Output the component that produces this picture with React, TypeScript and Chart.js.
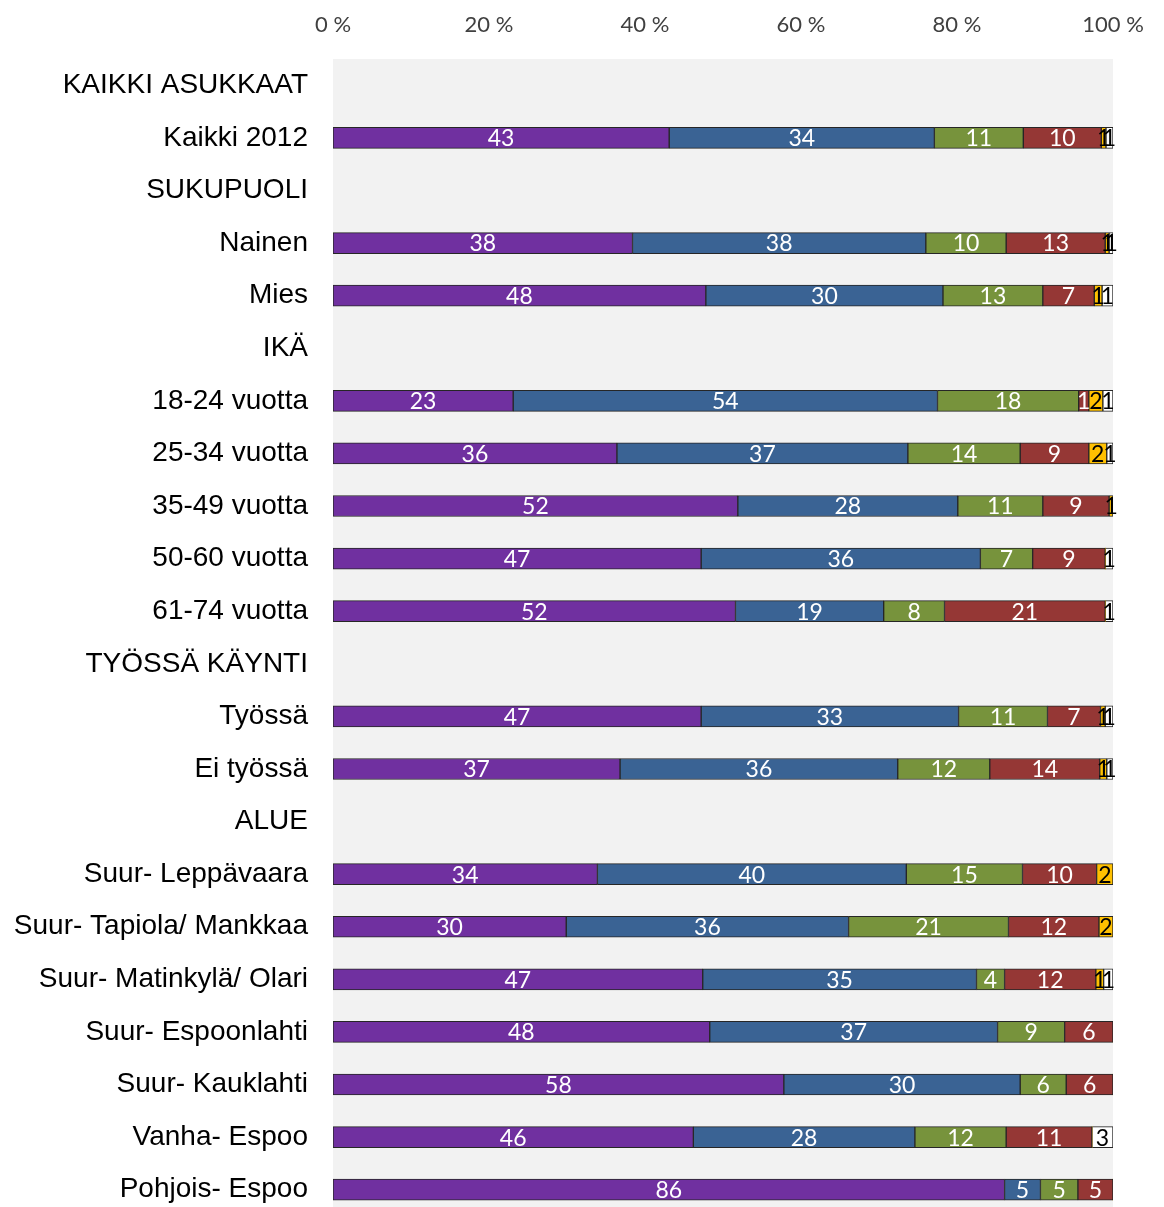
import React, { useEffect, useRef } from "react";
import { Chart, registerables } from "chart.js";
Chart.register(...registerables);

const categories = [
  "KAIKKI ASUKKAAT", "Kaikki 2012",
  "SUKUPUOLI", "Nainen", "Mies",
  "IKÄ", "18-24 vuotta", "25-34 vuotta", "35-49 vuotta", "50-60 vuotta", "61-74 vuotta",
  "TYÖSSÄ KÄYNTI", "Työssä", "Ei työssä",
  "ALUE", "Suur- Leppävaara", "Suur- Tapiola/ Mankkaa", "Suur- Matinkylä/ Olari",
  "Suur- Espoonlahti", "Suur- Kauklahti", "Vanha- Espoo", "Pohjois- Espoo",
];

const purpleValues = [null, 43.1, null, 38.4, 47.8, null, 23.1, 36.4, 51.9, 47.2, 51.6, null, 47.2, 36.8, null, 33.9, 29.9, 47.4, 48.3, 57.8, 46.2, 86.1];
const blueValues = [null, 34.0, null, 37.6, 30.4, null, 54.4, 37.3, 28.2, 35.8, 19.0, null, 33.0, 35.6, null, 39.6, 36.2, 35.1, 36.9, 30.3, 28.4, 4.6];
const greenValues = [null, 11.4, null, 10.3, 12.8, null, 18.1, 14.4, 10.9, 6.7, 7.8, null, 11.4, 11.8, null, 14.9, 20.5, 3.6, 8.6, 5.9, 11.7, 4.8];
const redValues = [null, 10.0, null, 12.7, 6.6, null, 1.3, 8.8, 8.5, 9.3, 20.6, null, 6.8, 14.1, null, 9.5, 11.6, 11.7, 6.2, 6.0, 11.0, 4.5];
const yellowValues = [null, 0.6, null, 0.5, 1.0, null, 1.8, 2.3, 0.5, 0, 0, null, 0.6, 0.9, null, 2.1, 1.8, 1.0, 0, 0, 0, 0];
const whiteValues = [null, 0.9, null, 0.5, 1.4, null, 1.3, 0.8, 0, 1.0, 1.0, null, 1.0, 0.8, null, 0, 0, 1.2, 0, 0, 2.7, 0];

const xTicks = [0, 20, 40, 60, 80, 100];

const seriesList = [
  { name: "1", data: purpleValues, color: "#7030a0", text: "#ffffff" },
  { name: "2", data: blueValues, color: "#3a6394", text: "#ffffff" },
  { name: "3", data: greenValues, color: "#77933c", text: "#ffffff" },
  { name: "4", data: redValues, color: "#953735", text: "#ffffff" },
  { name: "5", data: yellowValues, color: "#ffc000", text: "#000000" },
  { name: "6", data: whiteValues, color: "#ffffff", text: "#000000" },
];

const CANVAS_W = 1164;
const CANVAS_H = 1232;

const bgPlugin = {
  id: "plotBg",
  beforeDraw(chart: any) {
    const { ctx, chartArea } = chart;
    ctx.save();
    ctx.fillStyle = "#f2f2f2";
    ctx.fillRect(chartArea.left, chartArea.top, chartArea.right - chartArea.left, chartArea.bottom - chartArea.top);
    ctx.restore();
  },
};

const labelPlugin = {
  id: "segLabels",
  afterDatasetsDraw(chart: any) {
    const { ctx } = chart;
    ctx.save();
    ctx.font = "23px Lato, 'Open Sans', sans-serif";
    ctx.textAlign = "center";
    ctx.textBaseline = "middle";
    chart.data.datasets.forEach((ds: any, di: number) => {
      const meta = chart.getDatasetMeta(di);
      meta.data.forEach((el: any, i: number) => {
        const v = ds.data[i];
        if (v == null || v <= 0) return;
        const cx = (el.x + el.base) / 2;
        ctx.fillStyle = seriesList[di].text;
        ctx.fillText(String(Math.round(v)), cx, el.y + 1);
      });
    });
    ctx.restore();
  },
};

export default function App() {
  const ref = useRef<HTMLCanvasElement | null>(null);

  useEffect(() => {
    if (!ref.current) return;
    const chart = new Chart(ref.current, {
      type: "bar",
      data: {
        labels: categories,
        datasets: seriesList.map((s) => ({
          label: s.name,
          data: s.data as any,
          backgroundColor: s.color,
          borderColor: "#262626",
          borderWidth: (c: any) => (c.raw && c.raw > 0 ? 1 : 0),
          borderSkipped: false,
          barThickness: 21,
        })),
      },
      options: {
        indexAxis: "y",
        responsive: false,
        animation: false,
        devicePixelRatio: 1,
        layout: { padding: { top: 0, left: 0, right: CANVAS_W - 1113, bottom: CANVAS_H - 1216 } },
        plugins: {
          legend: { display: false },
          tooltip: { enabled: false },
        },
        scales: {
          x: {
            position: "top",
            stacked: true,
            min: 0,
            max: 100,
            afterBuildTicks: (scale: any) => {
              scale.ticks = xTicks.map((v) => ({ value: v }));
            },
            afterFit: (scale: any) => {
              scale.height = 59;
              scale.paddingLeft = 0;
              scale.paddingRight = 0;
            },
            grid: { display: false, drawTicks: false },
            border: { display: false },
            ticks: {
              padding: 21,
              color: "#404040",
              font: { family: "Lato, 'Open Sans', sans-serif", size: 22 },
              callback: (v: any) => v + " %",
              maxRotation: 0,
            },
          },
          y: {
            stacked: true,
            afterFit: (scale: any) => {
              scale.width = 333;
              scale.paddingTop = 0;
              scale.paddingBottom = 0;
            },
            grid: { display: false, drawTicks: false },
            border: { display: false },
            ticks: {
              autoSkip: false,
              padding: 25,
              color: "#000000",
              font: { family: "'Liberation Sans', Arial, sans-serif", size: 28 },
            },
          },
        },
      },
      plugins: [bgPlugin, labelPlugin],
    } as any);
    return () => chart.destroy();
  }, []);

  return (
    <div style={{ position: "absolute", left: 0, top: 0, width: CANVAS_W, height: 1207, overflow: "hidden", background: "#fff" }}>
      <canvas ref={ref} width={CANVAS_W} height={CANVAS_H} style={{ display: "block", width: CANVAS_W, height: CANVAS_H }} />
    </div>
  );
}
